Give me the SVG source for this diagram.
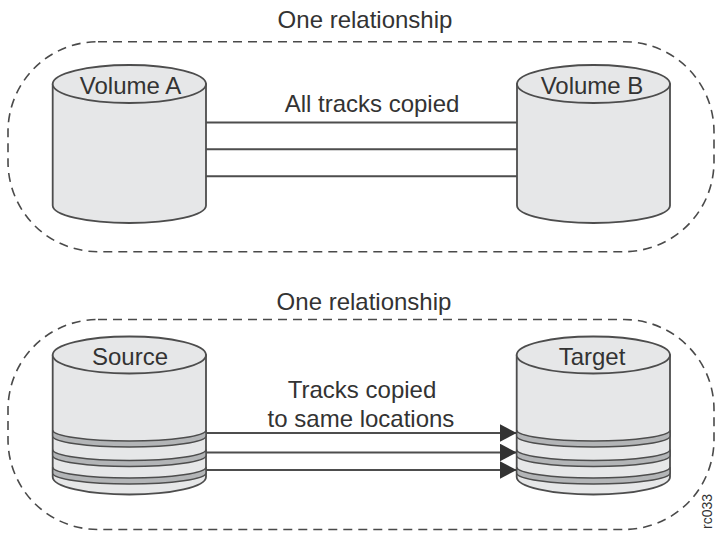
<svg xmlns="http://www.w3.org/2000/svg" width="716" height="536" viewBox="0 0 716 536">
  <style>
    .bg { fill: #ffffff; }
    .group { fill: none; stroke: #4a4a4a; stroke-width: 1.6; stroke-dasharray: 9 6; }
    .body { fill: #e6e7e8; stroke: #4d4d4d; stroke-width: 1.8; stroke-linejoin: round; }
    .band { fill: #b3b5b7; stroke: #4d4d4d; stroke-width: 1.5; }
    .txt { font-family: "Liberation Sans", Arial, Helvetica, sans-serif; font-size: 24px; fill: #333333; text-anchor: middle; }
    .small { font-family: "Liberation Sans", Arial, Helvetica, sans-serif; font-size: 14px; fill: #333333; }
    .track { stroke: #4d4d4d; stroke-width: 2; fill: none; }
  </style>
  <defs>
    <marker id="arrow" viewBox="0 0 17 18" refX="17" refY="9" markerWidth="17" markerHeight="18" markerUnits="userSpaceOnUse" orient="auto">
      <path d="M0,0 L17,9 L0,18 Z" fill="#333333"/>
    </marker>
  </defs>
  <rect class="bg" x="0" y="0" width="716" height="536"/>

  <g id="relationship-1">
    <text class="txt" x="365" y="28">One relationship</text>
    <rect class="group" x="8" y="41.7" width="706" height="210" rx="90" ry="90"/>
  </g>

  <g id="relationship-2">
    <text class="txt" x="364" y="310">One relationship</text>
    <rect class="group" x="8" y="319.5" width="706" height="210" rx="90" ry="90"/>
  </g>

  <g id="connectors">
    <line class="track" x1="206" y1="122.5" x2="517" y2="122.5"/>
    <line class="track" x1="206" y1="149.3" x2="517" y2="149.3"/>
    <line class="track" x1="206" y1="176.2" x2="517" y2="176.2"/>
    <text class="txt" x="372" y="111.5">All tracks copied</text>

    <line class="track" x1="206" y1="433" x2="516.7" y2="433" marker-end="url(#arrow)"/>
    <line class="track" x1="206" y1="452.5" x2="516.7" y2="452.5" marker-end="url(#arrow)"/>
    <line class="track" x1="206" y1="470" x2="516.7" y2="470" marker-end="url(#arrow)"/>
    <text class="txt" x="362" y="398">Tracks copied</text>
    <text class="txt" x="361" y="426.5">to same locations</text>
  </g>

  <g id="node-volume-a">
    <path class="body" d="M52.7,84 L52.7,205.5 A76.65,17.5 0 0 0 206,205.5 L206,84 Z"/>
    <ellipse class="body" cx="129.35" cy="84" rx="76.65" ry="19"/>
    <text class="txt" x="130.5" y="93.5">Volume A</text>
  </g>

  <g id="node-volume-b">
    <path class="body" d="M517,84 L517,205.5 A76.5,17.5 0 0 0 670,205.5 L670,84 Z"/>
    <ellipse class="body" cx="593.5" cy="84" rx="76.5" ry="19"/>
    <text class="txt" x="592" y="93.5">Volume B</text>
  </g>

  <g id="node-source">
    <path class="body" d="M52.7,355 L52.7,477 A76.65,17.5 0 0 0 206,477 L206,355 Z"/>
    <ellipse class="body" cx="129.35" cy="355" rx="76.65" ry="18.5"/>
    <path class="band" d="M52.7,430 A76.65,11 0 0 0 206,430 L206,436 A76.65,11 0 0 1 52.7,436 Z"/>
    <path class="band" d="M52.7,449.5 A76.65,11 0 0 0 206,449.5 L206,455.5 A76.65,11 0 0 1 52.7,455.5 Z"/>
    <path class="band" d="M52.7,467 A76.65,11 0 0 0 206,467 L206,473 A76.65,11 0 0 1 52.7,473 Z"/>
    <text class="txt" x="130" y="365">Source</text>
  </g>

  <g id="node-target">
    <path class="body" d="M516.7,355 L516.7,477 A76.65,17.5 0 0 0 670,477 L670,355 Z"/>
    <ellipse class="body" cx="593.35" cy="355" rx="76.65" ry="18.5"/>
    <path class="band" d="M516.7,430 A76.65,11 0 0 0 670,430 L670,436 A76.65,11 0 0 1 516.7,436 Z"/>
    <path class="band" d="M516.7,449.5 A76.65,11 0 0 0 670,449.5 L670,455.5 A76.65,11 0 0 1 516.7,455.5 Z"/>
    <path class="band" d="M516.7,467 A76.65,11 0 0 0 670,467 L670,473 A76.65,11 0 0 1 516.7,473 Z"/>
    <text class="txt" x="592" y="365">Target</text>
  </g>

  <text class="small" transform="translate(711.5,529) rotate(-90)" x="0" y="0">rc033</text>
</svg>
